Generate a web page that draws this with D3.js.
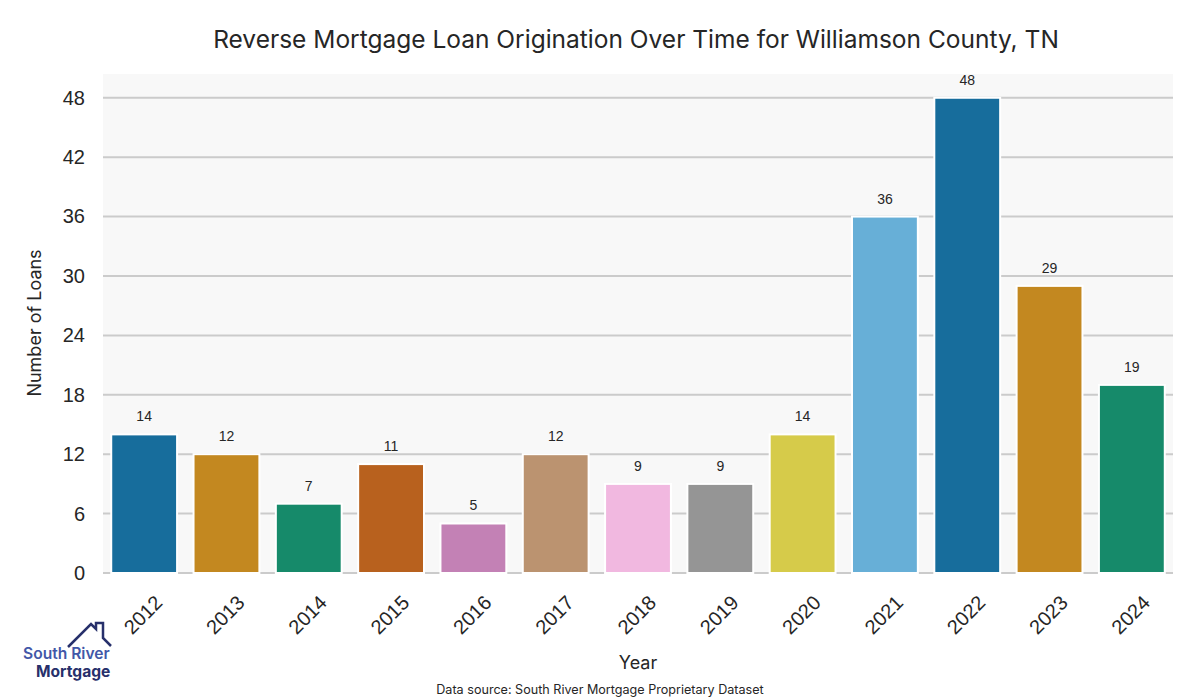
<!DOCTYPE html>
<html><head><meta charset="utf-8">
<script src="https://cdn.jsdelivr.net/npm/d3@7"></script>
<style>body{margin:0;background:#fff}svg{display:block}</style>
</head><body><svg id="c" width="1200" height="700"></svg>
<script>
const years = ["2012","2013","2014","2015","2016","2017","2018","2019","2020","2021","2022","2023","2024"];
const loans = [14,12,7,11,5,12,9,9,14,36,48,29,19];
const barColors = ["#176d9c","#c38820","#168a6a","#b8611e","#c381b5","#bb9370","#f1b8e0","#959595","#d6cb4a","#67afd7","#176d9c","#c38820","#168a6a"];
const yTicks = [0,6,12,18,24,30,36,42,48];

const svg = d3.select("#c");
const m = {l:103, r:1173, t:74, b:573};
const x = d3.scaleBand().domain(years).range([m.l, m.r]).paddingInner(0.2).paddingOuter(0.1);
const y = d3.scaleLinear().domain([0, 50.4]).range([m.b, m.t]);

svg.append("rect").attr("x",m.l).attr("y",m.t).attr("width",m.r-m.l).attr("height",m.b-m.t).attr("fill","#f8f8f8");

svg.append("g").selectAll("line").data(yTicks).join("line")
  .attr("x1",m.l).attr("x2",m.r).attr("y1",d=>y(d)).attr("y2",d=>y(d))
  .attr("stroke","#cbcbcb").attr("stroke-width",2);

const yAxis = svg.append("g").attr("transform",`translate(${m.l},0)`)
  .call(d3.axisLeft(y).tickValues(yTicks).tickSize(0).tickPadding(18));
yAxis.select(".domain").remove();
yAxis.selectAll("text").attr("font-family","Liberation Sans, Arial, sans-serif").attr("font-size",20).attr("fill","#262626");

svg.append("g").selectAll("rect").data(loans).join("rect")
  .attr("x",(d,i)=>x(years[i])).attr("width",x.bandwidth())
  .attr("y",d=>y(d)).attr("height",d=>y(0)-y(d))
  .attr("fill",(d,i)=>barColors[i]).attr("stroke","#fff").attr("stroke-width",2);

svg.append("g").selectAll("text").data(loans).join("text")
  .attr("x",(d,i)=>x(years[i])+x.bandwidth()/2).attr("y",d=>y(d)-13)
  .attr("text-anchor","middle").attr("font-family","Liberation Sans, Arial, sans-serif")
  .attr("font-size",14).attr("fill","#262626").text(d=>d);

const xAxis = svg.append("g").attr("transform",`translate(0,${m.b})`)
  .call(d3.axisBottom(x).tickSize(0).tickPadding(0));
xAxis.select(".domain").remove();
xAxis.selectAll("text")
  .attr("font-family","Liberation Sans, Arial, sans-serif").attr("font-size",20).attr("fill","#262626")
  .attr("text-anchor","middle").attr("dy",null).attr("y",0)
  .attr("transform","translate(0,43) rotate(-45)").attr("dominant-baseline","middle");

const tf = "Inter, Lato, sans-serif";
svg.append("text").attr("x",636).attr("y",48).attr("text-anchor","middle")
  .attr("font-family",tf).attr("font-size",24.5).attr("fill","#262626")
  .text("Reverse Mortgage Loan Origination Over Time for Williamson County, TN");
svg.append("text").attr("x",(m.l+m.r)/2).attr("y",669).attr("text-anchor","middle")
  .attr("font-family",tf).attr("font-size",18).attr("fill","#262626").text("Year");
svg.append("text").attr("transform","translate(41,323) rotate(-90)").attr("text-anchor","middle")
  .attr("font-family",tf).attr("font-size",18).attr("fill","#262626").text("Number of Loans");
svg.append("text").attr("x",600).attr("y",694).attr("text-anchor","middle")
  .attr("font-family",tf).attr("font-size",12.6).attr("fill","#262626")
  .text("Data source: South River Mortgage Proprietary Dataset");

// logo
const lg = svg.append("g");
lg.append("path").attr("d","M68,647 L91,624 L96,629 L96,623 L103,623 L103,638 L111,646")
  .attr("fill","none").attr("stroke","#27306b").attr("stroke-width",2.5);
lg.append("text").attr("x",23).attr("y",659).attr("font-family","Inter, sans-serif").attr("font-weight",600)
  .attr("font-size",15.6).attr("fill","#4257a8").text("South River");
lg.append("text").attr("x",36).attr("y",677).attr("font-family","Inter, sans-serif").attr("font-weight",700)
  .attr("font-size",15.6).attr("fill","#27306b").text("Mortgage");
</script></body></html>
